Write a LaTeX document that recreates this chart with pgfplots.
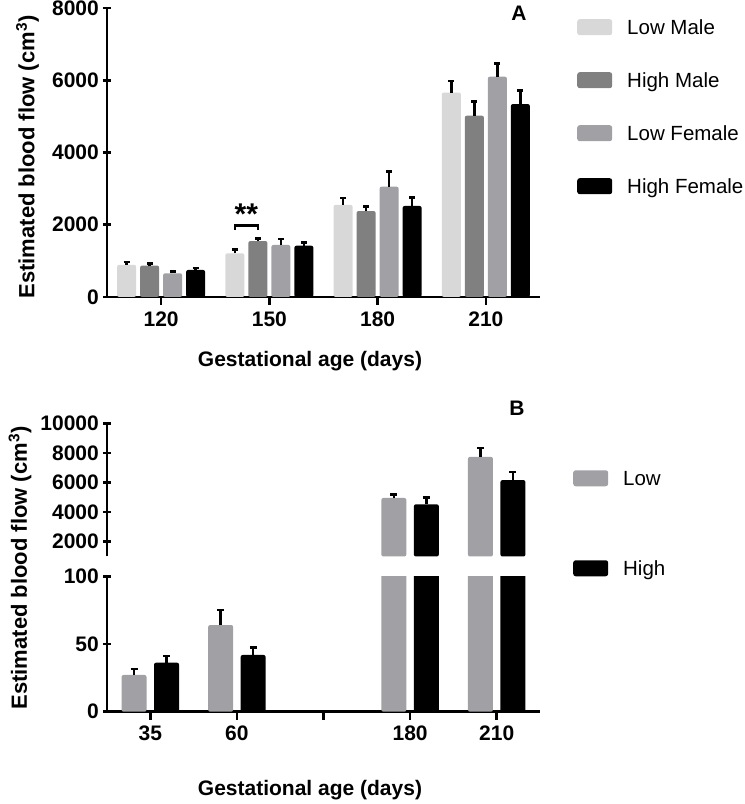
\documentclass[border=0pt]{standalone}
\usepackage{fontspec}
\setmainfont{Liberation Sans}
\usepackage{pgfplots}
\pgfplotsset{compat=1.18}
\usepackage{pgfplotstable}

\definecolor{lmale}{RGB}{216,216,216}
\definecolor{hmale}{RGB}{128,128,128}
\definecolor{lfem}{RGB}{160,160,165}

\newcommand\bigb{\fontsize{21}{25}\selectfont\bfseries}
\newcommand\ylab{\fontsize{22}{26}\selectfont\bfseries}
\newcommand\bign{\fontsize{20.5}{25}\selectfont}

% Panel A: gestational age index (0=120,1=150,2=180,3=210)
\pgfplotstableread{
x LM   LMe HM   HMe LF   LFe HF   HFe
0 890  80  870  60  656  50  748  50
1 1210 110 1550 65  1440 160 1420 95
2 2550 190 2380 120 3055 415 2520 240
3 5660 320 5020 390 6100 370 5340 370
}\tabA

% Panel B: index (0=35,1=60,3=180,4=210)
\pgfplotstableread{
x L    Le   H    He
0 27.2 4.4  36.3 5.0
1 64.2 11.0 42.0 5.7
3 4960 240  4530 470
4 7740 590  6170 560
}\tabB

\pgfplotsset{
  common/.style={
    scale only axis,
    enlargelimits=false,
    tick style={line width=2.5pt, black},
    tick align=outside,
    major tick length=8pt,
    ticklabel style={font=\bigb},
    yticklabel style={inner sep=4pt},
    xticklabel style={yshift=-3pt},
    /pgf/number format/assume math mode=true,
    /pgf/number format/1000 sep={},
    scaled y ticks=false,
    clip=true,
    legend style={draw=none, fill=none, inner sep=0pt, font=\bign,
      nodes={inner sep=0pt, text height=15pt, text depth=4pt}},
    legend cell align=left,
  },
  nolinearrows/.style={
    axis line style={-, line width=2.5pt},
    every inner x axis line/.append style={-},
    every outer x axis line/.append style={-},
    every inner y axis line/.append style={-},
    every outer y axis line/.append style={-},
  },
  sw/.style={legend image code/.code={\fill[##1, rounded corners=2.5pt] (0pt,-6.2pt) rectangle (35pt,9.8pt); \path (50pt,0pt);}},
  errsA/.style={error bars/.cd, y dir=plus, y explicit,
    error bar style={line width=2.5pt, draw=black},
    error mark options={line width=2.5pt, mark size=3pt, draw=black, rotate=90}, /pgfplots/.cd},
  errsB/.style={error bars/.cd, y dir=plus, y explicit,
    error bar style={line width=2.5pt, draw=black},
    error mark options={line width=2.5pt, mark size=3.5pt, draw=black, rotate=90}, /pgfplots/.cd},
}

\begin{document}
\begin{tikzpicture}
\useasboundingbox (0pt,0pt) rectangle (745pt,804pt);

% ---------------- Panel A ----------------
\begin{axis}[common,
  at={(107pt,507pt)}, anchor=south west,
  width=433pt, height=289pt,
  xmin=-0.5, xmax=3.5, ymin=0, ymax=8000,
  ytick={0,2000,4000,6000,8000},
  xtick={0,1,2,3}, xticklabels={120,150,180,210},
  axis lines=left, nolinearrows,
  ybar=4pt, bar width=19pt,
  legend style={at={(1.0855,0.962)}, anchor=north west, row sep=33.7pt},
]
\addplot[fill=lmale, draw=none, rounded corners=2pt, sw, errsA] table[x=x, y=LM, y error=LMe]{\tabA};
\addplot[fill=hmale, draw=none, rounded corners=2pt, sw, errsA] table[x=x, y=HM, y error=HMe]{\tabA};
\addplot[fill=lfem,  draw=none, rounded corners=2pt, sw, errsA] table[x=x, y=LF, y error=LFe]{\tabA};
\addplot[fill=black, draw=none, rounded corners=2pt, sw, errsA] table[x=x, y=HF, y error=HFe]{\tabA};
\legend{Low Male, High Male, Low Female, High Female}
\draw[line width=2.5pt] (axis cs:0.681,1860) -- (axis cs:0.681,1985) -- (axis cs:0.894,1985) -- (axis cs:0.894,1860);
\node[font=\fontsize{30}{30}\selectfont\bfseries] at (axis cs:0.7875,2280) {**};
\end{axis}

% ---------------- Panel B, lower segment ----------------
\begin{axis}[common,
  at={(107pt,92.3pt)}, anchor=south west,
  width=433pt, height=135pt,
  xmin=-0.5, xmax=4.5, ymin=0, ymax=100,
  ytick={0,50,100},
  xtick={0,1,2,3,4}, xticklabels={35,60,,180,210},
  axis lines=left, nolinearrows,
  ybar=7.5pt, bar width=25pt,
]
\addplot[fill=lfem,  draw=none, rounded corners=2pt, errsB] table[x=x, y=L, y error=Le]{\tabB};
\addplot[fill=black, draw=none, rounded corners=2pt, errsB] table[x=x, y=H, y error=He]{\tabB};
\end{axis}

% ---------------- Panel B, upper segment ----------------
\begin{axis}[common,
  at={(107pt,247.5pt)}, anchor=south west,
  width=433pt, height=133pt,
  xmin=-0.5, xmax=4.5, ymin=1000, ymax=10000,
  ytick={2000,4000,6000,8000,10000},
  axis y line=left, axis x line=none, nolinearrows,
  ybar=7.5pt, bar width=25pt,
  legend style={at={(1.0762,0.650)}, anchor=north west, row sep=70.7pt},
]
\addplot[fill=lfem,  draw=none, rounded corners=2pt, sw, restrict x to domain=2.5:4.5, errsB] table[x=x, y=L, y error=Le]{\tabB};
\addplot[fill=black, draw=none, rounded corners=2pt, sw, restrict x to domain=2.5:4.5, errsB] table[x=x, y=H, y error=He]{\tabB};
\legend{Low, High}
\end{axis}

% ---------------- Texts ----------------
\node[font=\bigb] at (519pt,791pt) {A};
\node[font=\bigb] at (517pt,396pt) {B};
\node[font=\ylab, rotate=90] at (27.5pt,647pt) {Estimated blood flow (cm\textsuperscript{3})};
\node[font=\ylab, rotate=90] at (20pt,236pt) {Estimated blood flow (cm\textsuperscript{3})};
\node[font=\bigb, anchor=base] at (310pt,437pt) {Gestational age (days)};
\node[font=\bigb, anchor=base] at (310pt,9pt) {Gestational age (days)};
\end{tikzpicture}
\end{document}
